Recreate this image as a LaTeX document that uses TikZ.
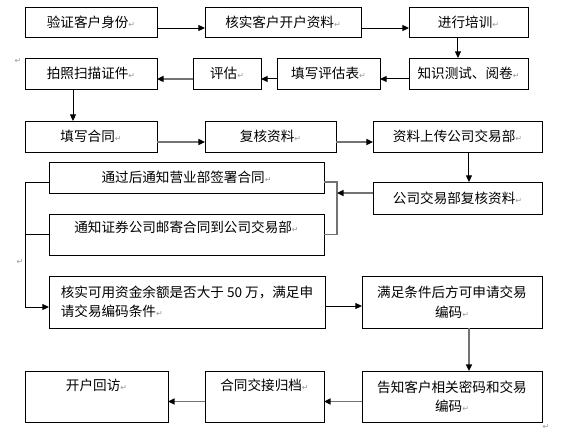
\documentclass[tikz,border=0pt]{standalone}
\usepackage{fontspec}
\setmainfont{Noto Sans CJK SC}
\newfontfamily\markfont{DejaVu Sans}
\usetikzlibrary{arrows.meta}
\newcommand{\pmark}{{\markfont\fontsize{6pt}{6pt}\selectfont\textcolor{black!40}{↵}}}
\tikzset{
  box/.style 2 args={draw, line width=0.75pt, inner sep=0pt, outer sep=0pt,
    minimum width=#1*0.75pt, minimum height=#2*0.75pt,
    font=\fontsize{10.2pt}{14.6pt}\selectfont},
  line/.style={line width=0.75pt},
  gline/.style={line width=1.1pt, draw=black!55},
  arr/.style={line, -{Triangle[length=5pt,width=4.5pt]}},
  garr/.style={gline, -{Triangle[length=5pt,width=4.5pt,color=black]}},
}
\begin{document}
\begin{tikzpicture}[x=0.75pt,y=0.75pt,yscale=-1,xscale=1]
        \useasboundingbox (0,0) rectangle (566,437);

        %Row 1
        \node[box={132}{30}] (yz) at (91,22) {验证客户身份\pmark};
        \node[box={156}{30}] (hs) at (283,22) {核实客户开户资料\pmark};
        \node[box={119}{30}] (px) at (468.5,22) {进行培训\pmark};
        %Row 2
        \node[box={119}{31}] (zs) at (468.5,73.5) {知识测试、阅卷\pmark};
        \node[box={103}{31}] (tb) at (328.5,73.5) {填写评估表\pmark};
        \node[box={68}{31}] (pg) at (227,73.5) {评估\pmark};
        \node[box={132}{31}] (pz) at (91,73.5) {拍照扫描证件\pmark};
        %Row 3
        \node[box={132}{31}] (ht) at (91,136.5) {填写合同\pmark};
        \node[box={131}{31}] (fh) at (270.5,136.5) {复核资料\pmark};
        \node[box={169}{31}] (sc) at (457.5,136.5) {资料上传公司交易部\pmark};
        %Row 4
        \node[box={169}{32}] (jf) at (457.5,198) {公司交易部复核资料\pmark};
        \node[box={275}{31}] (qs) at (186.5,177.5) {通过后通知营业部签署合同\pmark};
        \node[box={275}{41}, text depth=12.4pt] (yj) at (186.5,234.5) {通知证券公司邮寄合同到公司交易部\pmark};
        %Row 5
        \node[box={276}{52}, align=left] (zj) at (187,302) {核实可用资金余额是否大于 50 万，满足申\\请交易编码条件\pmark};
        \node[box={180}{52}, align=center] (sq) at (452,302) {满足条件后方可申请交易\\编码\pmark};
        %Row 6
        \node[box={180}{51}, align=center] (gz) at (452,396.5) {告知客户相关密码和交易\\编码\pmark};
        \node[box={119}{51}, text depth=17.7pt] (gd) at (264.5,396.5) {合同交接归档\pmark};
        \node[box={143}{51}, text depth=17.7pt] (hf) at (96.5,396.5) {开户回访\pmark};

        %Loose paragraph marks
        \node[inner sep=0pt] (m1) at (18,61) {\pmark};
        \node[inner sep=0pt] (m2) at (20,262) {\pmark};
        \node[inner sep=0pt] (m3) at (546,427) {\pmark};

        %Straight Lines: rows 1 and 2
        \draw[arr] ([yshift=4.5pt]yz.east) -- ([yshift=4.5pt]hs.west);
        \draw[arr] ([yshift=4.5pt]hs.east) -- ([yshift=4.5pt]px.west);
        \draw[arr] ([xshift=-7.9pt]px.south) -- ([xshift=-7.9pt]zs.north);
        \draw[arr] ([yshift=4.1pt]zs.west) -- ([yshift=4.1pt]tb.east);
        \draw[arr] ([yshift=4.1pt]tb.west) -- ([yshift=4.1pt]pg.east);
        \draw[garr] ([yshift=4.1pt]pg.west) -- ([yshift=4.1pt]pz.east);
        \draw[arr] ([xshift=-13.5pt]pz.south) -- ([xshift=-13.5pt]ht.north);
        %Straight Lines: rows 3 and 4
        \draw[garr] ([yshift=4.1pt]ht.east) -- ([yshift=4.1pt]fh.west);
        \draw[garr] ([yshift=4.1pt]fh.east) -- ([yshift=4.1pt]sc.west);
        \draw[arr] ([xshift=8.6pt]sc.south) -- ([xshift=8.6pt]jf.north);
        \draw[gline] ([yshift=3.4pt]qs.east) -- ++(13,0) coordinate (rb) |- (yj.east);
        \coordinate (jfo) at ([yshift=-3.75pt]jf.west);
        \draw[garr] (jfo) -- (jfo -| rb);
        \draw[line] ([yshift=3.4pt]qs.west) -- ++(-24,0) coordinate (lb);
        \draw[line] (yj.west) -- (yj.west -| lb);
        \draw[arr] (lb) |- ([yshift=3.75pt]zj.west);
        %Straight Lines: rows 5 and 6
        \draw[arr] ([yshift=3pt]zj.east) -- ([yshift=3pt]sq.west);
        \draw[garr] ([xshift=12.75pt]sq.south) -- ([xshift=12.75pt]gz.north);
        \draw[garr] ([yshift=3.75pt]gz.west) -- ([yshift=3.75pt]gd.east);
        \draw[garr] ([yshift=3.75pt]gd.west) -- ([yshift=3.75pt]hf.east);
    \end{tikzpicture}
\end{document}
